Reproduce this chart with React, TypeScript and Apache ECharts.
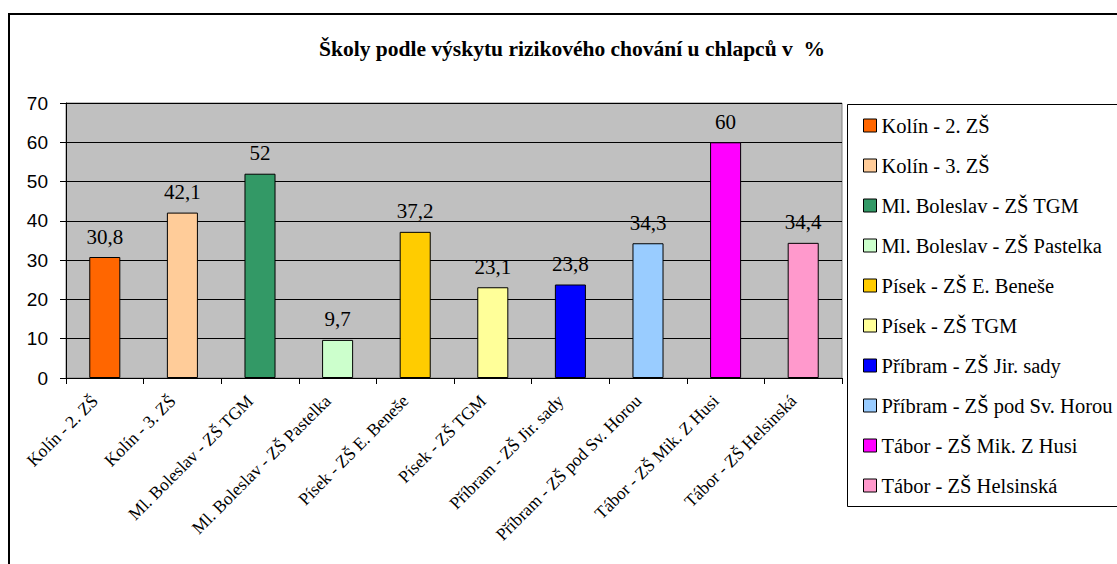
import React, { useEffect, useRef } from "react";
import * as echarts from "echarts";

const titleText = "Školy podle výskytu rizikového chování u chlapců v  %";
const categories = [
  "Kolín - 2. ZŠ",
  "Kolín - 3. ZŠ",
  "Ml. Boleslav - ZŠ TGM",
  "Ml. Boleslav - ZŠ Pastelka",
  "Písek - ZŠ E. Beneše",
  "Písek - ZŠ TGM",
  "Příbram - ZŠ Jir. sady",
  "Příbram - ZŠ pod Sv. Horou",
  "Tábor - ZŠ Mik. Z Husi",
  "Tábor - ZŠ Helsinská",
];
const values = [30.8, 42.1, 52, 9.7, 37.2, 23.1, 23.8, 34.3, 60, 34.4];
const colors = [
  "#FF6600",
  "#FFCC99",
  "#339966",
  "#CCFFCC",
  "#FFCC00",
  "#FFFF99",
  "#0000FF",
  "#99CCFF",
  "#FF00FF",
  "#FF99CC",
];
const yMin = 0;
const yMax = 70;
const yStep = 10;

const SERIF = "Liberation Serif";
const SANS = "Liberation Sans";

export default function App() {
  const ref = useRef<HTMLDivElement>(null);
  useEffect(() => {
    document.body.style.margin = "0";
    const chart = echarts.init(ref.current!, null, { renderer: "svg" });
    const series = categories.map((name, k) => ({
      type: "bar",
      name,
      data: values.map((v, i) => (i === k ? v : "-")),
      barWidth: "40%",
      barGap: "-100%",
      itemStyle: { color: colors[k], borderColor: "#000", borderWidth: 1 },
      label: {
        show: true,
        position: "top",
        distance: 10,
        fontFamily: SERIF,
        fontSize: 21,
        color: "#000",
        formatter: (p: any) => String(p.value).replace(".", ","),
      },
    }));
    chart.setOption({
      animation: false,
      backgroundColor: "#fff",
      title: {
        text: titleText,
        left: 567,
        top: 33,
        textAlign: "center",
        textStyle: { fontFamily: SERIF, fontWeight: "bold", fontSize: 21.5, color: "#000" },
      },
      grid: {
        left: 66,
        right: 1117 - 842,
        top: 103,
        bottom: 564 - 378,
        show: true,
        backgroundColor: "#C0C0C0",
        borderColor: "#808080",
        borderWidth: 1,
      },
      legend: {
        orient: "vertical",
        left: 863,
        top: 115,
        itemWidth: 13,
        itemHeight: 13,
        itemGap: 19,
        icon: "rect",
        padding: 0,
        itemStyle: { borderColor: "#000", borderWidth: 1 },
        textStyle: { fontFamily: SERIF, fontSize: 20.5, color: "#000", lineHeight: 20 },
        data: categories,
      },
      xAxis: {
        type: "category",
        data: categories,
        axisLine: { show: true, lineStyle: { color: "#000", width: 1 } },
        axisTick: { show: true, length: 6, lineStyle: { color: "#000" } },
        axisLabel: {
          interval: 0,
          rotate: 45,
          margin: 10,
          fontFamily: SERIF,
          fontSize: 17.5,
          color: "#000",
          padding: [0, 14, 0, 0],
        },
      },
      yAxis: {
        type: "value",
        min: yMin,
        max: yMax,
        interval: yStep,
        axisLine: { show: true, lineStyle: { color: "#000", width: 1 } },
        axisTick: { show: true, length: 6, lineStyle: { color: "#000" } },
        splitLine: { show: true, lineStyle: { color: "#000", width: 1 } },
        axisLabel: { margin: 18, fontFamily: SANS, fontSize: 19, color: "#000" },
      },
      graphic: [
        {
          type: "rect",
          z: 100,
          silent: true,
          shape: { x: 9, y: 14, width: 1200, height: 600 },
          style: { fill: "none", stroke: "#000", lineWidth: 2 },
        },
        {
          type: "rect",
          z: 100,
          silent: true,
          shape: { x: 847.5, y: 104.5, width: 400, height: 402 },
          style: { fill: "none", stroke: "#000", lineWidth: 1 },
        },
      ],
      series,
    });
    return () => chart.dispose();
  }, []);
  return <div ref={ref} style={{ width: 1117, height: 564 }} />;
}
